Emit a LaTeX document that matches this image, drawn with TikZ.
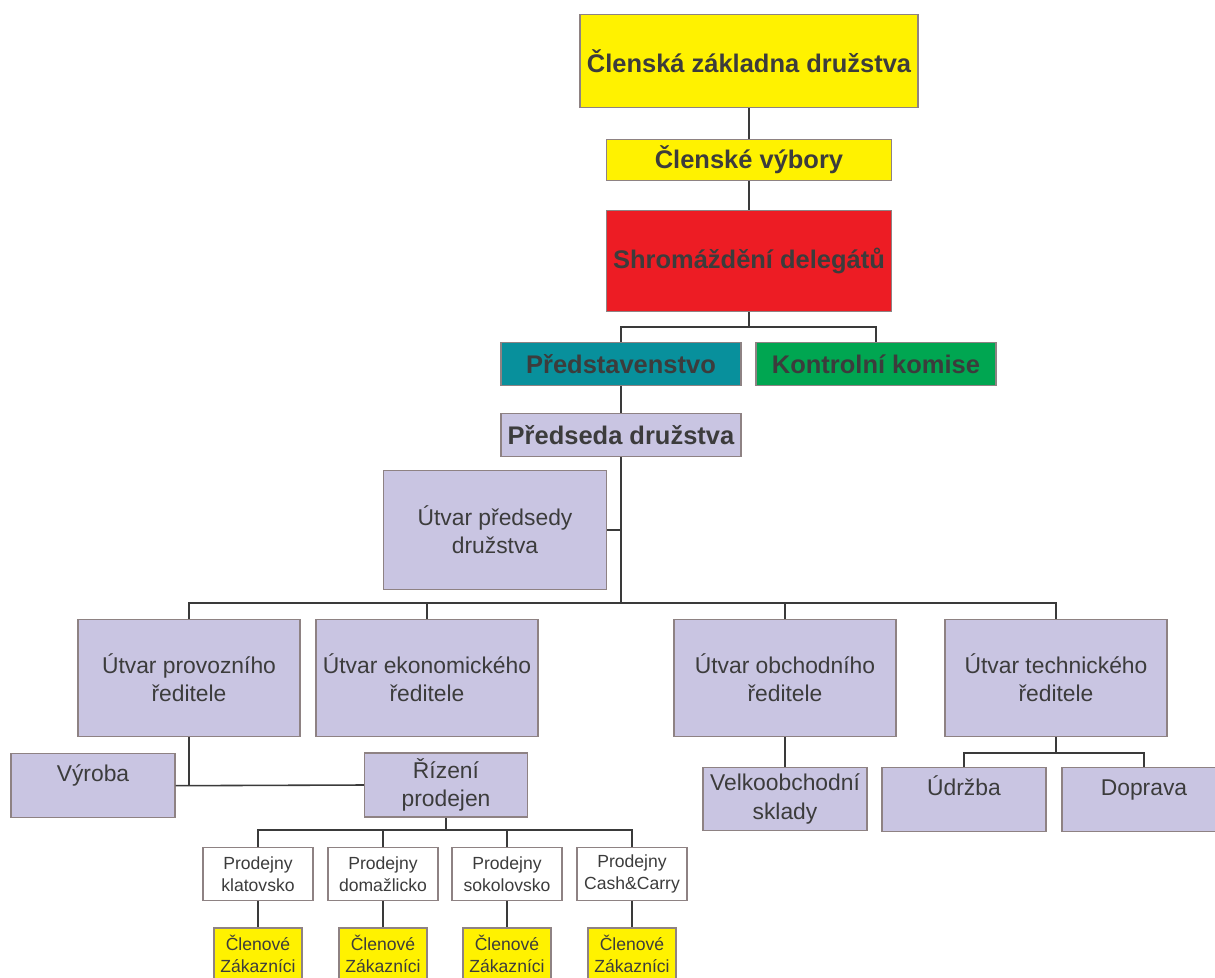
\documentclass[tikz,border=0pt]{standalone}
\usepackage{fontspec}
\setmainfont{Liberation Sans}
\definecolor{ylw}{HTML}{FFF200}
\definecolor{rd}{HTML}{ED1C24}
\definecolor{tl}{HTML}{08909C}
\definecolor{grn}{HTML}{00A651}
\definecolor{lav}{HTML}{C9C5E2}
\definecolor{boxline}{HTML}{8E8283}
\definecolor{txt}{HTML}{3C3C3C}
\definecolor{lineclr}{HTML}{3A3A3A}
\begin{document}
\begin{tikzpicture}[x=0.02cm, y=-0.02cm,
    box/.style={draw=boxline, line width=0.8pt, align=center, text=txt, inner sep=1pt,
        font=\fontsize{13}{16}\selectfont},
    head/.style={box, font=\bfseries\fontsize{14.5}{17}\selectfont},
    lav/.style={box, fill=lav},
    unit/.style={lav, minimum width=4.44cm, minimum height=2.34cm},
    dept/.style={lav, anchor=north, minimum width=3.28cm, inner ysep=0pt,
        text height=0.56cm, text depth=0.72cm},
    shop/.style={box, fill=white, minimum width=2.2cm, minimum height=1.06cm,
        font=\fontsize{10}{12.5}\selectfont},
    memb/.style={shop, fill=ylw, minimum width=1.76cm, minimum height=1.04cm},
    conn/.style={draw=lineclr, line width=0.9pt}]

    \useasboundingbox (0,0) rectangle (1215,978);

    % organy druzstva
    \node[head, fill=ylw, minimum width=6.76cm, minimum height=1.86cm] (zakladna) at (749,61) {Členská základna družstva};
    \node[head, fill=ylw, minimum width=5.7cm, minimum height=0.82cm] (vybory) at (749,160) {Členské výbory};
    \node[head, fill=rd, minimum width=5.7cm, minimum height=2.02cm] (shromazdeni) at (749,261) {Shromáždění delegátů};
    \node[head, fill=tl, minimum width=4.8cm, minimum height=0.86cm] (predstav) at (621,364) {Představenstvo};
    \node[head, fill=grn, minimum width=4.8cm, minimum height=0.86cm] (komise) at (876,364) {Kontrolní komise};
    \node[head, fill=lav, minimum width=4.8cm, minimum height=0.86cm] (predseda) at (621,435) {Předseda družstva};

    % utvary
    \node[unit, minimum width=4.46cm, minimum height=2.38cm] (utvpred) at (495,530) {Útvar předsedy\\družstva};
    \node[unit] (provoz) at (189,678) {Útvar provozního\\ředitele};
    \node[unit] (ekonom) at (427,678) {Útvar ekonomického\\ředitele};
    \node[unit] (obchod) at (785,678) {Útvar obchodního\\ředitele};
    \node[unit] (tech) at (1056,678) {Útvar technického\\ředitele};

    \node[dept] (vyroba) at (93,753) {Výroba};
    \node[lav, minimum width=3.26cm, minimum height=1.28cm] (rizeni) at (446,785) {Řízení\\prodejen};
    \node[lav, minimum width=3.28cm, minimum height=1.26cm] (velko) at (785,799) {Velkoobchodní\\sklady};
    \node[dept] (udrzba) at (964,767) {Údržba};
    \node[dept] (doprava) at (1144,767) {Doprava};

    % prodejny a clenove
    \foreach \n/\x/\t in {klat/258/klatovsko, domaz/383/domažlicko, sokol/507/sokolovsko, cash/632/Cash\&Carry} {
        \node[shop] (\n) at (\x,874) {Prodejny\\\t};
        \node[memb] (\n-cl) at (\x,954) {Členové\\Zákazníci};
        \draw[conn] (\n.south) -- (\n-cl.north);
    }

    \coordinate (j1) at (749,327);
    \coordinate (j2) at (621,603);
    \coordinate (j3) at (446,830);
    \coordinate (j4) at (1056,753);

    \draw[conn] (zakladna.south) -- (vybory.north);
    \draw[conn] (vybory.south) -- (shromazdeni.north);
    \draw[conn] (shromazdeni.south) -- (j1);
    \draw[conn] (predstav.north) |- (j1) -| (komise.north);
    \draw[conn] (predstav.south) -- (predseda.north);
    \draw[conn] (predseda.south) -- (j2);
    \draw[conn] (utvpred.east) -- (utvpred.east -| j2);
    \draw[conn] (provoz.north) |- (j2) -| (tech.north);
    \draw[conn] (ekonom.north) -- (ekonom.north |- j2);
    \draw[conn] (obchod.north) -- (obchod.north |- j2);
    \draw[conn] (provoz.south) -- (provoz.south |- vyroba.east);
    \draw[conn] (vyroba.east) -- (rizeni.west);
    \draw[conn] (rizeni.south) -- (j3);
    \draw[conn] (klat.north) |- (j3) -| (cash.north);
    \draw[conn] (domaz.north) -- (domaz.north |- j3);
    \draw[conn] (sokol.north) -- (sokol.north |- j3);
    \draw[conn] (obchod.south) -- (velko.north);
    \draw[conn] (tech.south) -- (j4);
    \draw[conn] (udrzba.north) |- (j4) -| (doprava.north);
\end{tikzpicture}
\end{document}
